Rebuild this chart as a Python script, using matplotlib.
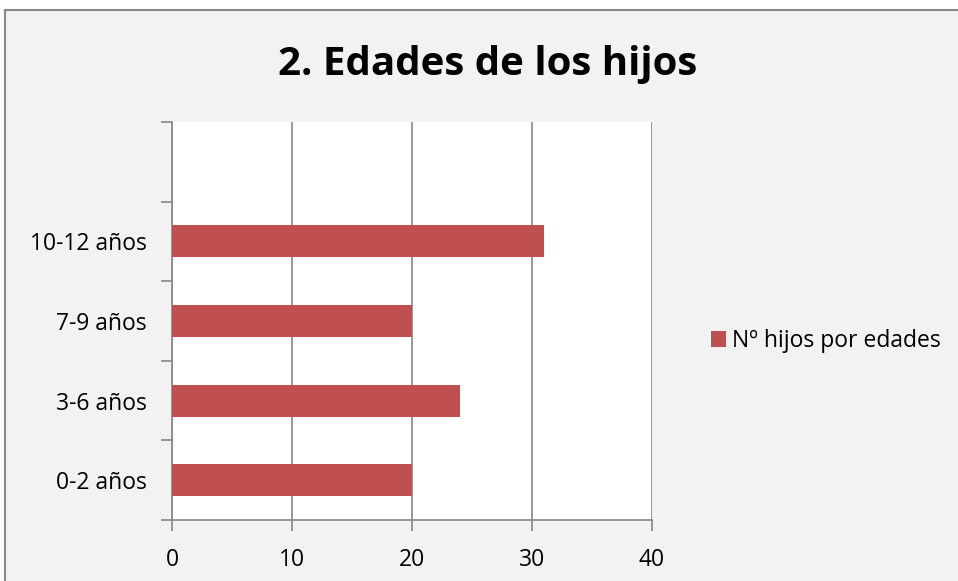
import matplotlib
matplotlib.use("Agg")
import matplotlib.pyplot as plt
from matplotlib.patches import Rectangle, Patch
import numpy as np

categories = ["0-2 años", "3-6 años", "7-9 años", "10-12 años"]
values = [20, 24, 20, 31]
series_name = "Nº hijos por edades"
title = "2. Edades de los hijos"
xticks = [0, 10, 20, 30, 40]

W, H = 958, 581
fig = plt.figure(figsize=(W / 100, H / 100), dpi=100)
fig.patch.set_facecolor("white")
bg = Rectangle((5 / W, -0.1), 1.2, 1.1 - 10 / H, transform=fig.transFigure,
               facecolor="#f2f2f2", edgecolor="#898989", linewidth=1.5, zorder=-10)
fig.add_artist(bg)

ax = fig.add_axes([172 / W, 1 - 520 / H, (652 - 172) / W, (520 - 122) / H])
ax.set_zorder(5)
ax.set_facecolor("white")
bar_color = "#c0504d"
grid_color = "#868686"
font = "Open Sans"
fs = 16.5

y = np.arange(len(categories))
ax.barh(y, values, height=0.4, color=bar_color, zorder=3)
ax.set_xlim(0, 40)
ax.set_ylim(-0.5, len(categories) + 0.5)
ax.set_xticks(xticks)
ax.set_xticklabels([str(v) for v in xticks], fontsize=fs, family=font)
ax.set_yticks(np.arange(-0.5, len(categories) + 1, 1.0))
ax.set_yticklabels([])
ax.set_yticks(y, minor=True)
ax.set_yticklabels(categories, minor=True, fontsize=fs, family=font)
ax.tick_params(axis="y", which="minor", length=0, pad=18)
ax.tick_params(axis="y", which="major", length=8, color=grid_color, width=1.2)
ax.tick_params(axis="x", length=8, color=grid_color, width=1.2, pad=12)
ax.xaxis.grid(True, color=grid_color, linewidth=1.2, zorder=1)
ax.set_axisbelow(True)
for s in ["top", "right"]:
    ax.spines[s].set_visible(False)
for s in ["left", "bottom"]:
    ax.spines[s].set_color(grid_color)
    ax.spines[s].set_linewidth(1.2)

fig.text((275 + 700) / 2 / W, 1 - 64 / H, title, ha="center", va="center",
         fontsize=29, fontweight="bold", family=font)

handles = [Patch(facecolor=bar_color, label=series_name)]
fig.legend(handles=handles, loc="center left", bbox_to_anchor=(690 / W, 1 - 341 / H),
           frameon=False, prop={"family": font, "size": fs},
           handlelength=0.65, handleheight=0.65, handletextpad=0.3)

fig.savefig("out.png", dpi=100)
